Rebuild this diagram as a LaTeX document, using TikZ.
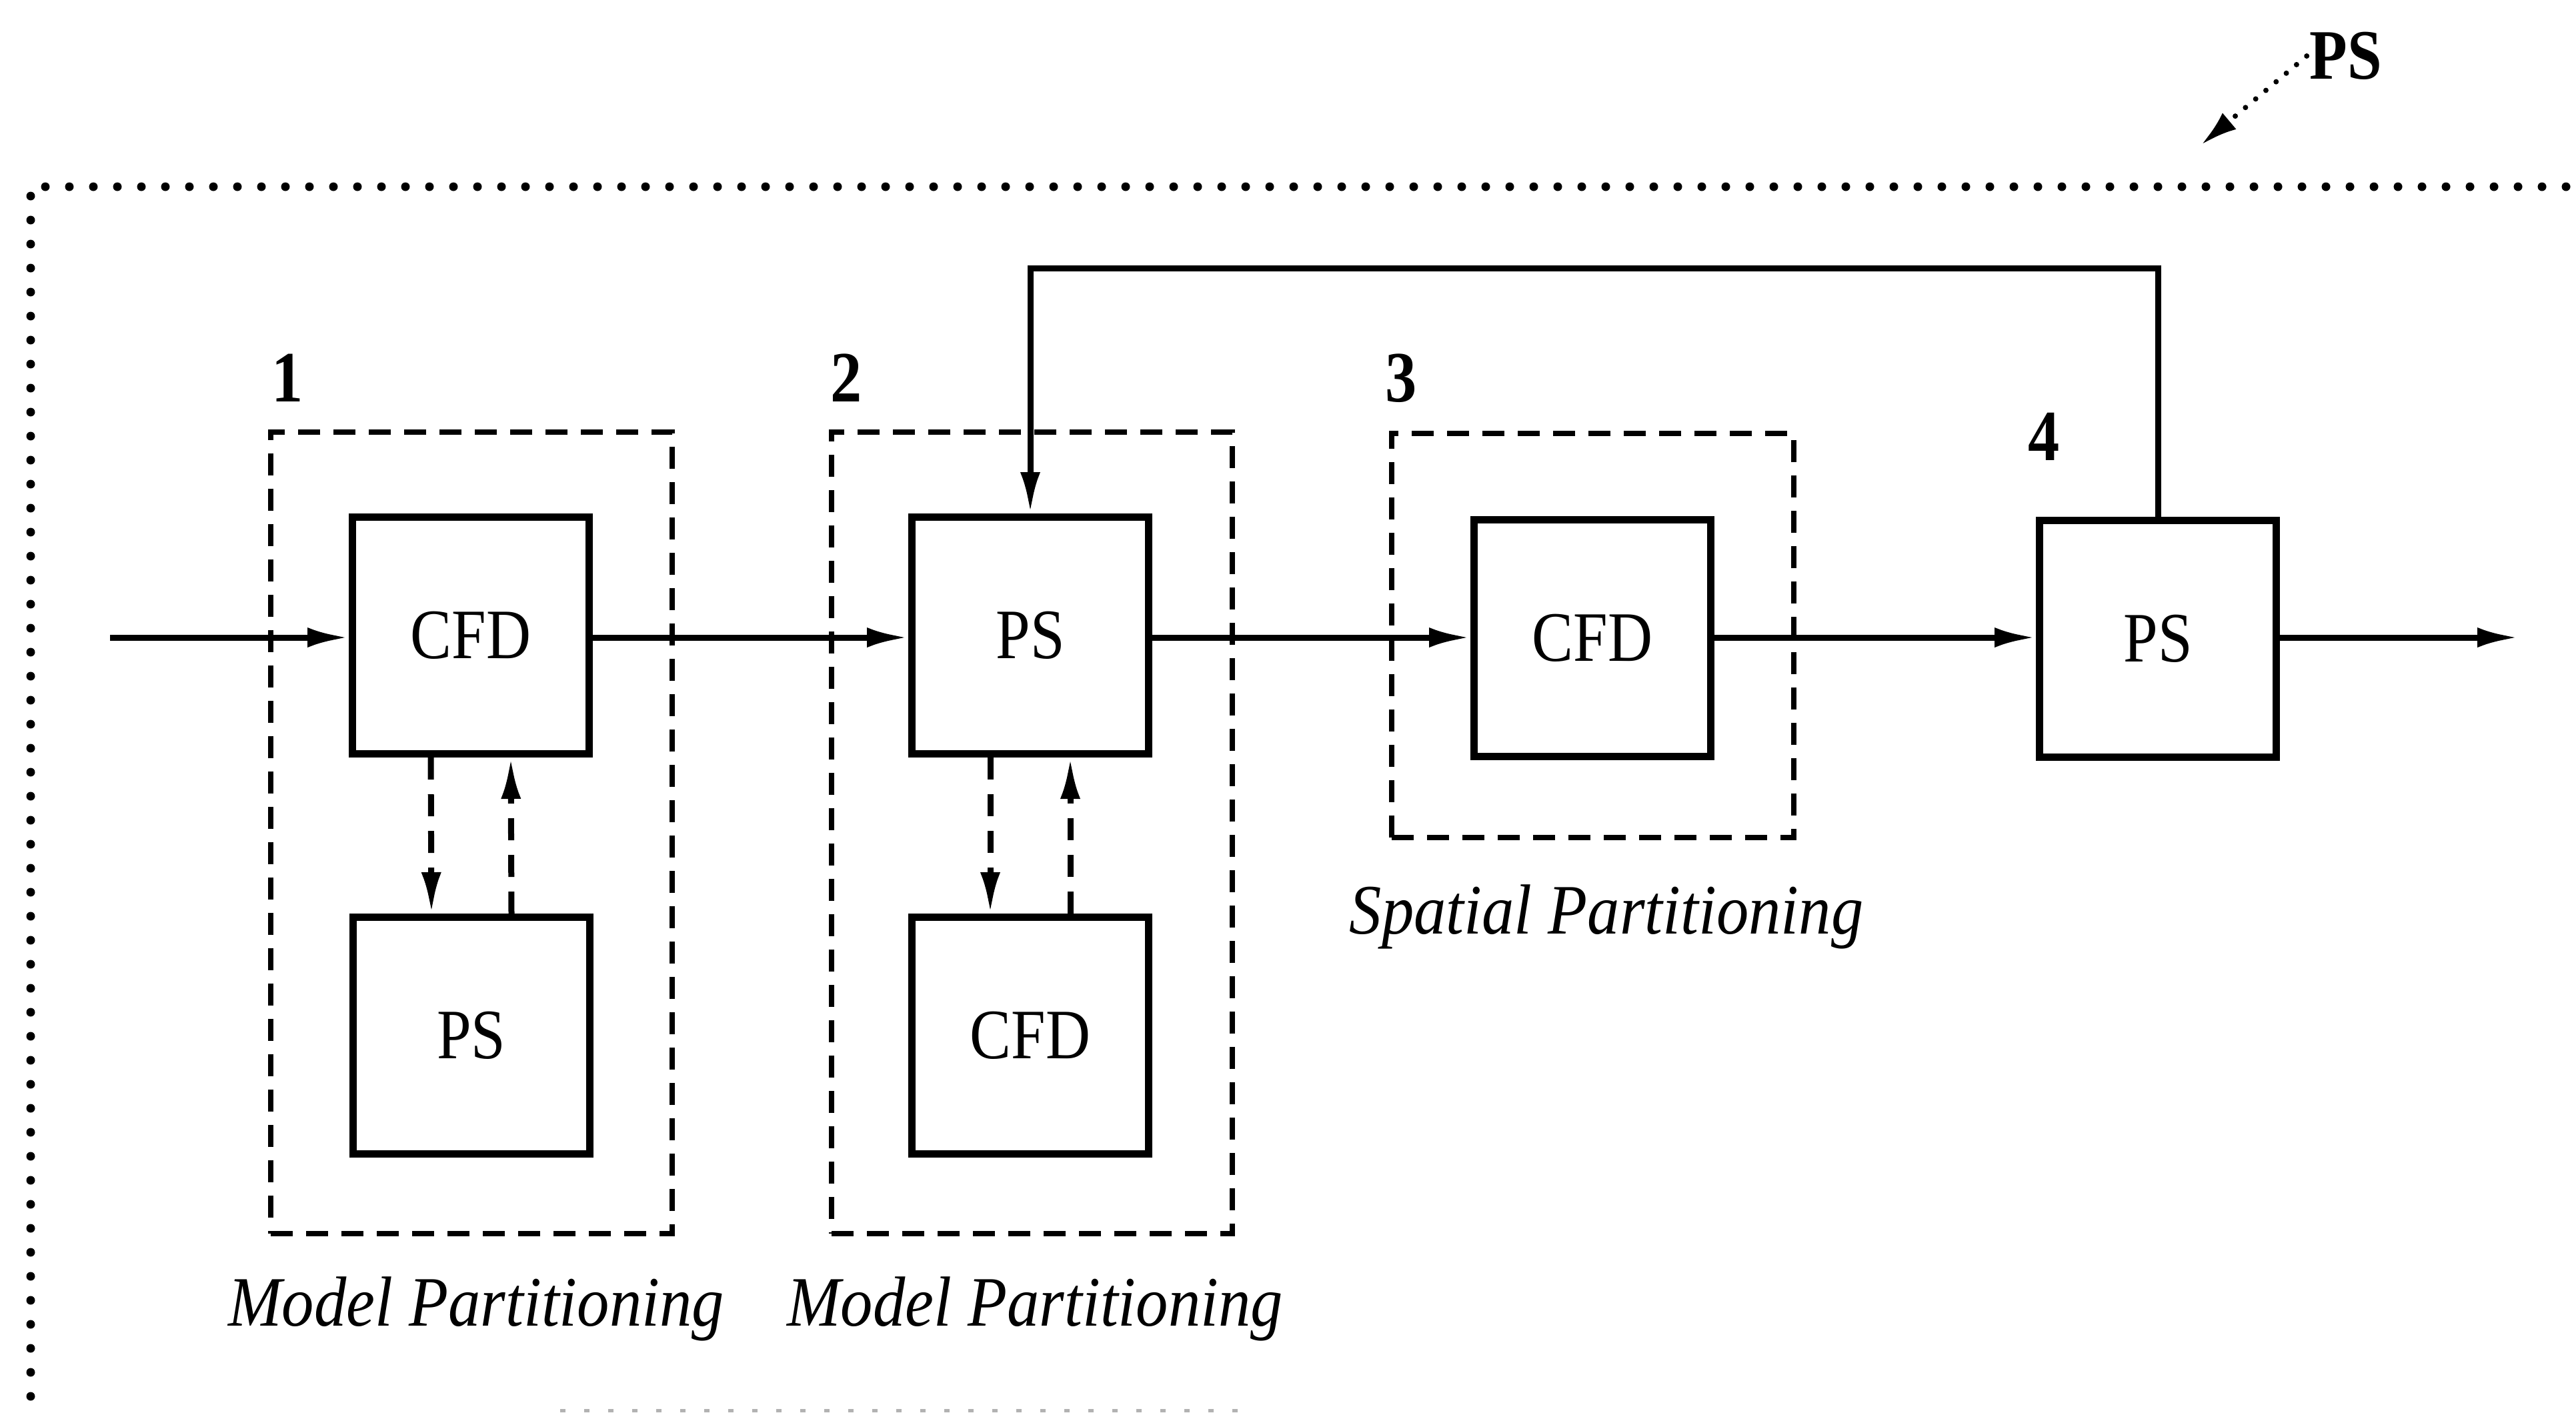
\documentclass[tikz,border=0pt]{standalone}
\usepackage{fontspec}
\usepackage{graphicx}
\setmainfont{Liberation Serif}
\usetikzlibrary{arrows.meta}

% slightly tall, narrow lettering
\newcommand\talltext[1]{\scalebox{0.96}[1.1]{#1}}
\newcommand\tallcap[1]{\scalebox{1.0}[1.1]{#1}}

\begin{document}
\begin{tikzpicture}[
  txt/.style={font=\fontsize{27.5}{30}\selectfont},
  blk/.style={draw, line width=0.11cm, minimum width=3.55cm, minimum height=3.55cm,
              inner sep=0pt, txt},
  grp/.style={draw, line width=0.08cm, dash pattern=on 0.33cm off 0.2cm, inner sep=0pt},
  flow/.style={line width=0.09cm, -{Latex[length=0.62cm,width=0.3cm]}},
  link/.style={flow, dash pattern=on 0.33cm off 0.22cm},
  outer/.style={line width=0.13cm, line cap=round, dash pattern=on 0pt off 0.36cm},
  pointer/.style={line width=0.08cm, line cap=round, dash pattern=on 0pt off 0.2cm,
                  -{Latex[length=0.55cm,width=0.32cm]}},
  num/.style={font=\bfseries\fontsize{28}{30}\selectfont, inner sep=0pt},
  caption/.style={font=\itshape\fontsize{27.5}{30}\selectfont, inner sep=0pt}
]
\useasboundingbox (0,0) rectangle (38.63,-21.18);

% enclosing dotted frame (runs off the right and bottom edges)
\draw[outer] (39.2,-2.80) -- (0.46,-2.80) -- (0.46,-21.4);
\draw[line width=0.05cm, gray!60, dash pattern=on 0.08cm off 0.28cm] (8.4,-21.15) -- (18.7,-21.15);

% external label of the whole system
\node[font=\bfseries\fontsize{27.5}{30}\selectfont, inner sep=0.04cm] (psl) at (35.18,-0.84) {\talltext{PS}};
\coordinate (pstip) at (33.01,-2.17);
\draw[pointer] (psl.west) -- (pstip);

% partition groups
\node[grp, minimum width=6.02cm, minimum height=12.02cm] (g1) at (7.07,-12.49) {};
\node[grp, minimum width=6.01cm, minimum height=12.02cm] (g2) at (15.475,-12.49) {};
\node[grp, minimum width=6.03cm, minimum height=6.06cm] (g3) at (23.885,-9.53) {};

% group numbers
\node[num] (n1) at (4.31,-5.67) {\talltext{1}};
\node[num] (n2) at (12.69,-5.67) {\talltext{2}};
\node[num] (n3) at (21.01,-5.67) {\talltext{3}};
\node[num] (n4) at (30.65,-6.55) {\talltext{4}};

% group captions
\node[caption] (m1) at (7.14,-19.63) {\tallcap{Model Partitioning}};
\node[caption] (m2) at (15.52,-19.63) {\tallcap{Model Partitioning}};
\node[caption] (sp) at (24.09,-13.75) {\tallcap{Spatial Partitioning}};

% processing blocks
\node[blk] (c1) at (7.06,-9.53) {\talltext{CFD}};
\node[blk] (p1) at (7.07,-15.53) {\talltext{PS}};
\node[blk] (p2) at (15.45,-9.53) {\talltext{PS}};
\node[blk] (c2) at (15.45,-15.53) {\talltext{CFD}};
\node[blk] (c3) at (23.88,-9.57) {\talltext{CFD}};
\node[blk] (p4) at (32.36,-9.58) {\talltext{PS}};

% main data flow
\coordinate (in) at (1.65,-9.56);
\coordinate (out) at (37.77,-9.56);
\draw[flow] (in) -- (c1.west |- in);
\draw[flow] (c1.east |- in) -- (p2.west |- in);
\draw[flow] (p2.east |- in) -- (c3.west |- in);
\draw[flow] (c3.east |- in) -- (p4.west |- in);
\draw[flow] (p4.east |- in) -- (out);

% feedback loop from block 4 to block 2
\coordinate (fb) at (15.45,-4.02);
\draw[flow] (p4.north) |- (fb) -- (p2.north);

% coupling inside the model partitions
\draw[link] ([xshift=-0.6cm]c1.south) -- ([xshift=-0.6cm]p1.north);
\draw[link] ([xshift=0.6cm]p1.north) -- ([xshift=0.6cm]c1.south);
\draw[link] ([xshift=-0.6cm]p2.south) -- ([xshift=-0.6cm]c2.north);
\draw[link] ([xshift=0.6cm]c2.north) -- ([xshift=0.6cm]p2.south);
\end{tikzpicture}
\end{document}
